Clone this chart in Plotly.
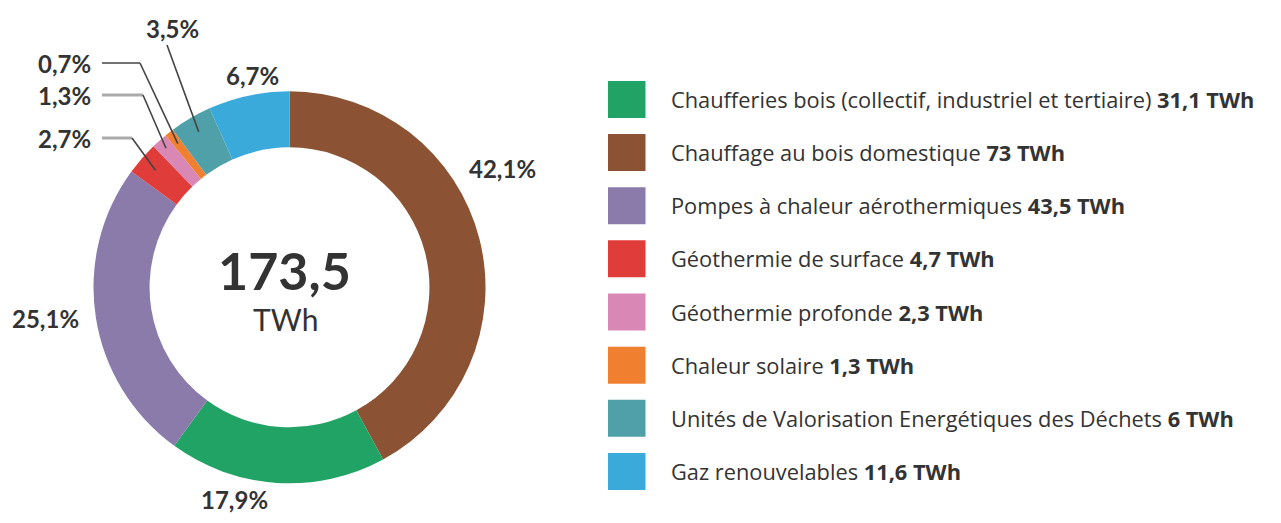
import math
import plotly.graph_objects as go

# ---- data ----
categories = [
    "Chaufferies bois (collectif, industriel et tertiaire)",
    "Chauffage au bois domestique",
    "Pompes à chaleur aérothermiques",
    "Géothermie de surface",
    "Géothermie profonde",
    "Chaleur solaire",
    "Unités de Valorisation Energétiques des Déchets",
    "Gaz renouvelables",
]
values_twh = [31.1, 73, 43.5, 4.7, 2.3, 1.3, 6, 11.6]
value_labels = ["31,1", "73", "43,5", "4,7", "2,3", "1,3", "6", "11,6"]
pct_labels = ["17,9%", "42,1%", "25,1%", "2,7%", "1,3%", "0,7%", "3,5%", "6,7%"]
colors = ["#22a366", "#8b5333", "#8a7bab", "#e03c3a", "#d987b5", "#f08030", "#4fa0a8", "#3aaadb"]
ring_order = [1, 0, 2, 3, 4, 5, 6, 7]  # clockwise from 12 o'clock
total_label = "173,5"
unit_label = "TWh"

OFF = 8  # page body margin
W, H = 1281 - 2 * OFF, 523 - 2 * OFF
CX, CY, R_OUT = 289.5, 287.3, 196.0
HOLE = 0.714
TXT = "#333333"
FONT = "Lato"
LEG_FONT = "Open Sans"

def px(x):
    return (x - OFF) / W

def py(y):
    return 1 - (y - OFF) / H

fig = go.Figure()
fig.add_trace(go.Pie(
    labels=[categories[i] for i in ring_order],
    values=[values_twh[i] for i in ring_order],
    marker=dict(colors=[colors[i] for i in ring_order], line=dict(width=0)),
    sort=False, direction="clockwise", rotation=0, hole=HOLE,
    textinfo="none", showlegend=False,
    domain=dict(x=[px(CX - R_OUT), px(CX + R_OUT)], y=[py(CY + R_OUT), py(CY - R_OUT)]),
))

# mid-angle of each slice (clockwise from top), for leader line endpoints
tot = sum(values_twh)
mid = {}
cum = 0
for i in ring_order:
    v = values_twh[i]
    mid[i] = (cum + v / 2) / tot * 360
    cum += v

def ring_pt(i, r=182):
    a = math.radians(mid[i])
    return CX + r * math.sin(a), CY - r * math.cos(a)

annotations = []
shapes = []

def label(text, x, y, xanchor="center", size=24):
    annotations.append(dict(text=f"<b>{text}</b>", x=px(x), y=py(y), xref="paper", yref="paper",
                            xanchor=xanchor, yanchor="middle", showarrow=False,
                            font=dict(family=FONT, size=size, color=TXT)))

# big labels
label(pct_labels[1], 502, 168)
label(pct_labels[0], 234, 499)
label(pct_labels[2], 45, 318)
label(pct_labels[7], 252, 75)
label(pct_labels[6], 172, 29)
label(pct_labels[5], 93, 63, "right")
label(pct_labels[4], 93, 95, "right")
label(pct_labels[3], 93, 138, "right")

def line(x0, y0, x1, y1, color="#444444", width=1.6):
    shapes.append(dict(type="line", xref="paper", yref="paper", x0=px(x0), y0=py(y0),
                       x1=px(x1), y1=py(y1), line=dict(color=color, width=width)))

# leader lines
ox, oy = ring_pt(5)
line(102, 63, 140, 63)
line(140, 63, ox, oy)
pxp, pyp = ring_pt(4, 186)
line(102, 95, 143, 95, "#aaaaaa", 3)
line(143, 95, pxp, pyp)
rx, ry = ring_pt(3, 178)
line(102, 138, 132, 138, "#aaaaaa", 3)
line(132, 138, rx, ry)
tx, ty = ring_pt(6, 180)
line(167, 45, tx, ty)

# centre total
annotations.append(dict(text=f"<b>{total_label}</b>", x=px(CX - 5), y=py(270), xref="paper", yref="paper",
                        showarrow=False, xanchor="center", yanchor="middle",
                        font=dict(family=FONT, size=52, color=TXT)))
annotations.append(dict(text=unit_label, x=px(CX - 4), y=py(319), xref="paper", yref="paper",
                        showarrow=False, xanchor="center", yanchor="middle",
                        font=dict(family=FONT, size=30, color=TXT)))

# custom legend
for k, (cat, v, c) in enumerate(zip(categories, value_labels, colors)):
    yc = 99.4 + 53.15 * k
    shapes.append(dict(type="rect", xref="paper", yref="paper", x0=px(608), x1=px(645.5),
                       y0=py(yc - 18.5), y1=py(yc + 18.5), fillcolor=c, line=dict(width=0)))
    annotations.append(dict(text=f"{cat} <b>{v} TWh</b>", x=px(669), y=py(yc), xref="paper", yref="paper",
                            showarrow=False, xanchor="left", yanchor="middle",
                            font=dict(family=LEG_FONT, size=21.8, color=TXT)))

fig.update_layout(width=W, height=H, margin=dict(l=0, r=0, t=0, b=0),
                  paper_bgcolor="white", plot_bgcolor="white",
                  annotations=annotations, shapes=shapes, showlegend=False)
fig.write_html("out.html")
